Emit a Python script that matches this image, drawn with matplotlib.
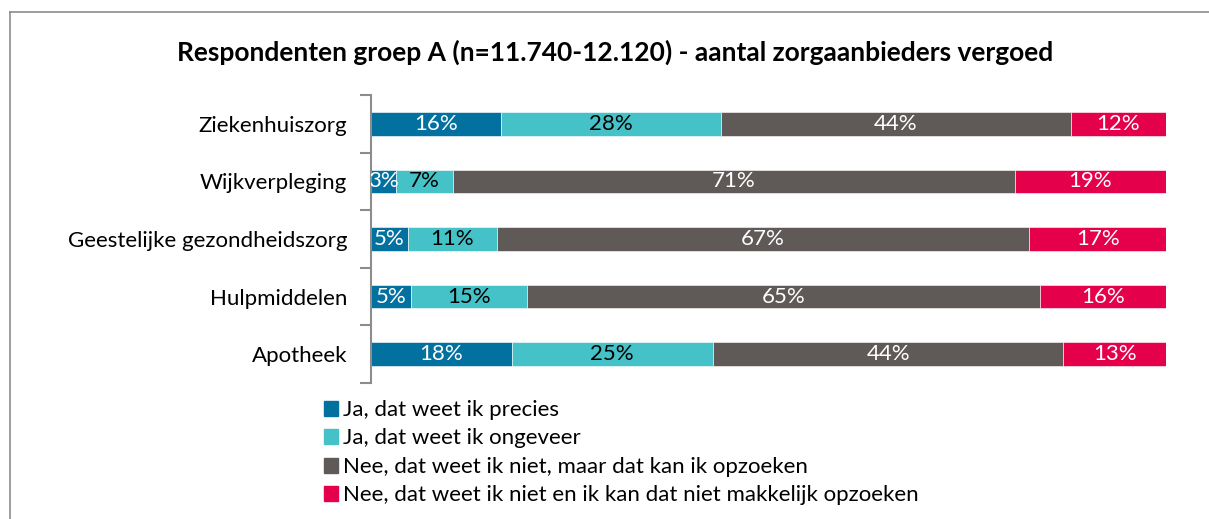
import numpy as np
import matplotlib
matplotlib.use('Agg')
import matplotlib.pyplot as plt
from matplotlib.patches import Rectangle
from matplotlib.lines import Line2D

plt.rcParams['font.family'] = ['Lato', 'DejaVu Sans']

# Data (shares in %)
categories = ['Ziekenhuiszorg', 'Wijkverpleging', 'Geestelijke gezondheidszorg',
              'Hulpmiddelen', 'Apotheek']
series_names = ['Ja, dat weet ik precies',
                'Ja, dat weet ik ongeveer',
                'Nee, dat weet ik niet, maar dat kan ik opzoeken',
                'Nee, dat weet ik niet en ik kan dat niet makkelijk opzoeken']
precies = [16.4, 3.1, 4.6, 5.0, 17.7]
ongeveer = [27.6, 7.2, 11.2, 14.6, 25.3]
opzoeken = [44.0, 70.7, 67.0, 64.6, 44.1]
niet_makkelijk = [12.0, 19.0, 17.2, 15.8, 12.9]

colors = ['#0271A0', '#44C2C7', '#5F5A58', '#E4004B']
text_colors = ['white', 'black', 'white', 'white']

W, H = 1209, 519
fig = plt.figure(figsize=(W / 100, H / 100), dpi=100)

# thin frame (top + left) like the exported chart area
fig.add_artist(Line2D([10 / W, 1.0], [1 - 12 / H, 1 - 12 / H], color='#8c8c8c', lw=1.2,
                      transform=fig.transFigure))
fig.add_artist(Line2D([10 / W, 10 / W], [0, 1 - 12 / H], color='#8c8c8c', lw=1.2,
                      transform=fig.transFigure))

ax = fig.add_axes([371 / W, 1 - 383 / H, (1166 - 371) / W, (383 - 95) / H])

y = np.arange(len(categories))
left = np.zeros(len(categories))
all_series = [precies, ongeveer, opzoeken, niet_makkelijk]
for vals, col, tcol in zip(all_series, colors, text_colors):
    vals = np.array(vals)
    ax.barh(y, vals, left=left, height=0.41, color=col, edgecolor='white', linewidth=0.4)
    for yi, l, v in zip(y, left, vals):
        ax.text(l + v / 2, yi, f"{v:.0f}%", ha='center', va='center',
                color=tcol, fontsize=16, clip_on=True)
    left += vals

ax.set_xlim(0, 100)
ax.set_ylim(len(categories) - 0.5, -0.5)
ax.set_xticks([])
ax.set_yticks(y)
ax.set_yticklabels(categories, fontsize=16)
ax.tick_params(axis='y', which='major', length=0, pad=17)
ax.set_yticks(np.arange(-0.5, len(categories)), minor=True)
ax.tick_params(axis='y', which='minor', length=8, width=1.5, color='#8c8c8c')
for s in ['top', 'right', 'bottom']:
    ax.spines[s].set_visible(False)
ax.spines['left'].set_color('#8c8c8c')
ax.spines['left'].set_linewidth(1.5)

fig.text(615 / W, 1 - 52 / H,
         'Respondenten groep A (n=11.740-12.120) - aantal zorgaanbieders vergoed',
         ha='center', va='center', fontsize=19, fontweight='bold')

# legend, one entry per row
handles = [Rectangle((0, 0), 1, 1, color=c) for c in colors]
fig.legend(handles, series_names, loc='upper left', bbox_to_anchor=(324 / W, 1 - 400 / H),
           frameon=False, fontsize=16, handlelength=0.65, handleheight=0.65,
           handletextpad=0.2, labelspacing=0.38, borderpad=0, borderaxespad=0)

fig.savefig('out.png', dpi=100)
